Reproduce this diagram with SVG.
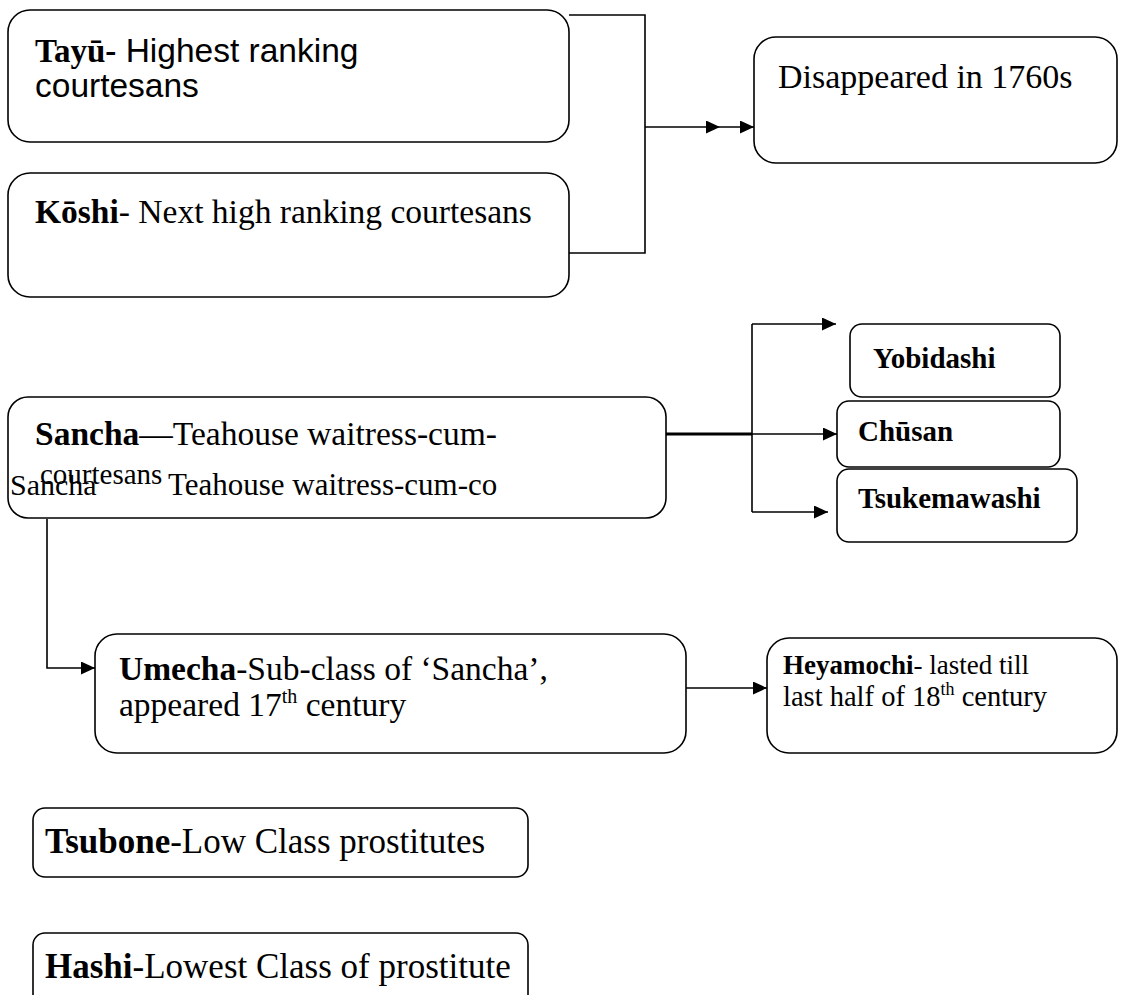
<svg xmlns="http://www.w3.org/2000/svg" width="1124" height="995" viewBox="0 0 1124 995">
<style>
.box{fill:none;stroke:#000;stroke-width:1.6}
.ln{fill:none;stroke:#000;stroke-width:1.6}
.thick{fill:none;stroke:#000;stroke-width:3}
.t{font-family:"Liberation Serif","Times New Roman",serif;fill:#000}
.s{font-family:"Liberation Sans",Arial,sans-serif;fill:#000}
.b{font-weight:bold}
</style>
<defs>
<marker id="ah" markerUnits="userSpaceOnUse" markerWidth="15" markerHeight="14" refX="14" refY="6.5" orient="auto">
<path d="M0,0 L14,6.5 L0,13 Z" fill="#000"/>
</marker>
</defs>
<rect width="1124" height="995" fill="#fff"/>
<g id="connectors">
<path class="ln" d="M569,15 H645 V253 H569"/>
<path class="ln" d="M645,127 H720 H754" marker-mid="url(#ah)" marker-end="url(#ah)"/>
<path class="thick" d="M666,434 H752"/>
<path class="ln" d="M752,324 V512"/>
<path class="ln" d="M752,324 H836" marker-end="url(#ah)"/>
<path class="ln" d="M752,434 H837" marker-end="url(#ah)"/>
<path class="ln" d="M752,512 H828" marker-end="url(#ah)"/>
<path class="ln" d="M47,519 V668 H95" marker-end="url(#ah)"/>
<path class="ln" d="M686,688 H767" marker-end="url(#ah)"/>
</g>
<g id="tayu">
<rect class="box" x="8" y="10" width="561" height="132" rx="22"/>
<text x="35" y="62"><tspan class="t b" font-size="33">Tayū-</tspan><tspan class="s" font-size="33.5"> Highest ranking</tspan></text>
<text class="s" x="35" y="97" font-size="33.5">courtesans</text>
</g>
<g id="koshi">
<rect class="box" x="8" y="173" width="561" height="124" rx="22"/>
<text class="t" x="35" y="223" font-size="33.5"><tspan class="b">Kōshi</tspan>- Next high ranking courtesans</text>
</g>
<g id="disappeared">
<rect class="box" x="754" y="37" width="363" height="126" rx="22"/>
<text class="t" x="778" y="88" font-size="34">Disappeared in 1760s</text>
</g>
<g id="sancha">
<rect class="box" x="8" y="397" width="658" height="121" rx="20"/>
<text class="t" x="35" y="445" font-size="33.5"><tspan class="b">Sancha</tspan>—Teahouse waitress-cum-</text>
<text class="t" x="40" y="484" font-size="29">courtesans</text>
<text class="t" x="10" y="495" font-size="30">Sancha</text>
<text class="t" x="168" y="495" font-size="31">Teahouse waitress-cum-co</text>
</g>
<g id="yobidashi">
<rect class="box" x="850" y="324" width="210" height="73" rx="12"/>
<text class="t b" x="873" y="368" font-size="29">Yobidashi</text>
</g>
<g id="chusan">
<rect class="box" x="837" y="401" width="223" height="66" rx="12"/>
<text class="t b" x="858" y="441" font-size="29">Chūsan</text>
</g>
<g id="tsukemawashi">
<rect class="box" x="837" y="469" width="240" height="73" rx="12"/>
<text class="t b" x="858" y="508" font-size="29">Tsukemawashi</text>
</g>
<g id="umecha">
<rect class="box" x="95" y="634" width="591" height="119" rx="22"/>
<text class="t" x="119" y="680" font-size="33.5"><tspan class="b">Umecha</tspan>-Sub-class of ‘Sancha’,</text>
<text class="t" x="119" y="716" font-size="33.5">appeared 17<tspan font-size="20" dy="-13">th</tspan><tspan dy="13"> century</tspan></text>
</g>
<g id="heyamochi">
<rect class="box" x="767" y="638" width="350" height="115" rx="22"/>
<text class="t" x="783" y="674" font-size="27"><tspan class="b">Heyamochi</tspan>- lasted till</text>
<text class="t" x="783" y="706" font-size="28.5">last half of 18<tspan font-size="18" dy="-11">th</tspan><tspan dy="11"> century</tspan></text>
</g>
<g id="tsubone">
<rect class="box" x="33" y="808" width="495" height="69" rx="12"/>
<text class="t" x="45" y="853" font-size="35"><tspan class="b">Tsubone</tspan>-Low Class prostitutes</text>
</g>
<g id="hashi">
<rect class="box" x="33" y="933" width="495" height="80" rx="12"/>
<text class="t" x="45" y="978" font-size="35"><tspan class="b">Hashi</tspan>-Lowest Class of prostitute</text>
</g>
</svg>
